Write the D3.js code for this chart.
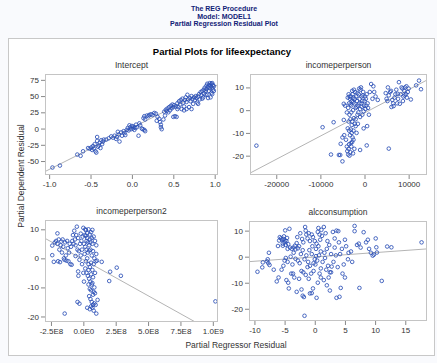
<!DOCTYPE html>
<html>
<head>
<meta charset="utf-8">
<script src="https://cdn.jsdelivr.net/npm/d3@7"></script>
<style>
  body { margin: 0; background: #f9fafd; }
  svg { display: block; font-family: "Liberation Sans", Arial, sans-serif; }
</style>
</head>
<body>
<div id="my_dataviz"></div>
<script>
// header and titles
var headerLines = ["The REG Procedure", "Model: MODEL1", "Partial Regression Residual Plot"];
var mainTitle = "Partial Plots for lifeexpectancy";
var panelTitles = ["Intercept", "incomeperperson", "incomeperperson2", "alcconsumption"];

// tick values per panel
var interceptXTicks = [-1, -0.5, 0, 0.5, 1];
var interceptYTicks = [-50, -25, 0, 25, 50, 75];
var incomeXTicks = [-20000, -10000, 0, 10000];
var incomeYTicks = [-20, -10, 0, 10];
var income2XTicks = [-2.5e8, 0, 2.5e8, 5e8, 7.5e8, 1e9];
var income2YTicks = [-20, -10, 0, 10];
var alcXTicks = [-10, -5, 0, 5, 10, 15];
var alcYTicks = [-20, -10, 0, 10];

// fitted lines: [intercept, slope]
var fitLines = [[1, 64], [-1.2, 0.00102], [-0.45, -2.48e-8], [-0.1, 0.166]];

// partial residuals [x, y]
var interceptPts = [[-0.96,-60],[-0.87,-57],[-0.66,-40],[-0.62,-42],[-0.59,-35],[-0.53,-30],[-0.51,-31],[-0.49,-29],[-0.48,-33],
  [-0.47,-27],[-0.46,-31],[-0.45,-24],[-0.44,-35],[-0.43,-37],[-0.42,-13],[-0.42,-19],[-0.41,-28],[-0.40,-26],[-0.39,-22],
  [-0.38,-30],[-0.37,-18],[-0.36,-24],[-0.35,-20],[-0.34,-17],[-0.31,-17],[-0.28,-15],[-0.25,-12],[-0.23,-14],[-0.21,-11],
  [-0.19,-16],[-0.18,-13],[-0.17,-5],[-0.16,-9],[-0.15,-20],[-0.13,-6],[-0.12,-11],[-0.10,-4],[-0.09,-7],[-0.08,-10],
  [-0.06,-2],[-0.05,1],[-0.04,-3],[-0.03,5],[-0.02,2],[-0.01,-1],[0.0,4],[0.01,0],[0.02,3],[0.03,-2],[0.04,1],[0.05,6],
  [0.06,2],[0.08,-11],[0.09,8],[0.10,5],[0.12,0],[0.13,-1],[0.15,-2],[0.16,-4],[0.14,16],[0.15,19],[0.16,14],[0.18,20],
  [0.20,19],[0.21,21],[0.23,22],[0.25,21],[0.27,24],[0.29,23],[0.30,12],[0.31,18],[0.33,15],[0.34,10],[0.35,6],[0.35,2],
  [0.36,-1],[0.38,14],[0.39,26],[0.40,20],[0.41,29],[0.42,27],[0.43,31],[0.44,25],[0.45,33],[0.46,28],[0.47,35],[0.48,31],
  [0.49,37],[0.50,33],[0.50,18],[0.51,36],[0.52,19],[0.53,34],[0.54,18],[0.55,30],[0.55,39],[0.56,33],[0.57,42],[0.58,37],
  [0.59,44],[0.60,30],[0.61,46],[0.62,40],[0.63,34],[0.63,28],[0.64,44],[0.65,48],[0.66,30],[0.66,41],[0.67,52],[0.68,45],
  [0.69,33],[0.70,47],[0.71,42],[0.72,50],[0.72,30],[0.73,45],[0.74,38],[0.75,48],[0.76,44],[0.77,50],[0.78,47],[0.79,40],
  [0.80,49],[0.80,38],[0.81,53],[0.82,45],[0.83,56],[0.84,51],[0.85,58],[0.86,48],[0.87,60],[0.87,54],[0.88,63],[0.89,58],
  [0.90,66],[0.90,61],[0.91,52],[0.91,69],[0.92,64],[0.93,67],[0.93,58],[0.94,70],[0.94,62],[0.95,66],[0.96,55],[0.96,69],
  [0.97,63],[0.97,70],[0.98,60],[0.98,67],[0.99,65],[0.99,58],[0.95,48],[0.92,47],[0.85,46],[0.89,52],[0.97,53]];

var incomePts = [[-24500,-15.6],[-9500,-7.5],[-7000,-5.3],[-7600,-19.5],[-5800,-19.7],[-5500,-19.7],[-5000,-22.5],
  [-5400,-14.8],[-4700,-4.3],[-4700,2.8],[-4400,2.0],[-5000,-12],[-4600,-11],[-4200,-13],[-4000,-16],[-3900,-18],
  [-3700,-19.5],[-3600,-17],[-3400,-20],[-3200,-18.5],[-3000,-16],[-2800,-14],[-2600,-19],[-2300,-17],[-1000,-17.5],
  [500,-15.5],[5500,-16.9],[-3800,-8],[-3500,-9],[-3300,-11],[-3100,-8.5],[-2900,-10],[-2700,-12],[-2500,-9],[-3600,-5],
  [-3200,-4],[-2800,-5],[-2400,-3.5],[-2200,-6],[-2000,-7],[-1800,-10],[-3400,-2],[-3000,-1],[-2600,0],[-4000,-1],
  [-3700,1],[-3500,3],[-3300,5],[-3100,6],[-2900,4],[-2700,7],[-2500,5.5],[-2300,3],[-2100,8],[-1900,6],[-1700,4],
  [-1500,2],[-1300,7],[-1100,5],[-900,9],[-700,6],[-500,4],[-300,8],[-100,2],[100,6],[300,5],[500,7],[700,3],[-1400,-1],
  [-1000,0.5],[-600,1.5],[-200,-0.5],[200,0.5],[-800,10],[-1200,9.5],[-2000,1],[-1600,-2],[-3800,5.5],[-3600,7],
  [-3000,2],[-2800,8.5],[-2400,9],[-1800,1.5],[-1000,-3],[-500,-2],[0,4],[400,2],[800,1],[1000,-2],[1200,8],[1500,11.5],
  [2000,10.5],[2200,8],[2500,6],[3000,4.5],[1800,5],[600,-7],[-1500,-6],[-2000,-4],[-200,-8],[-3400,6],[-3200,2.5],
  [-2600,3.5],[-2200,5],[-1600,7.5],[-700,3],[-400,6.5],[-1200,3],[-2900,-6.5],[-2500,-13],[-3100,-14.5],[-3500,-15],
  [4800,7.5],[5000,5],[5200,4],[5500,6.5],[5800,8],[6100,1.4],[6300,4.5],[6600,1.8],[6800,5.5],[7000,7],[7200,9],
  [7400,3],[7600,5],[7800,12.3],[8000,2.8],[8200,7],[8400,10],[8600,9.5],[8800,6],[9000,8.5],[9200,10],[9400,7],
  [9600,5.5],[9800,8],[10000,9.5],[10500,4.7],[11700,10.9],[12350,13],[12800,9.2],[6000,8.5],[5300,10],[7500,7.2],
  [8700,4],[9500,10.5],[9100,6.5],[6500,3]];

var income2Pts = [[-2.4e8,4.4],[-2.4e8,1.1],[-2.28e8,-1.2],[-2.0e8,8.6],[-2.2e8,5.5],[-2.1e8,6],[-2.0e8,5],[-1.9e8,6.5],
  [-1.85e8,3],[-1.8e8,-1.3],[-1.7e8,5.8],[-1.65e8,2],[-1.6e8,6.5],[-1.55e8,4],[-1.5e8,0],[-1.45e8,-0.5],[-1.4e8,5.5],
  [-1.35e8,1],[-1.3e8,-0.8],[-1.25e8,6],[-1.2e8,3.5],[-1.15e8,-1],[-1.1e8,2],[-1.0e8,-2],[-0.95e8,4],[-0.9e8,-2.2],
  [-0.85e8,6],[-0.8e8,8],[-0.75e8,5],[-0.7e8,9.5],[-0.65e8,6.5],[-0.6e8,4.5],[-0.55e8,8],[-0.5e8,10.9],[-0.45e8,3],
  [-0.4e8,7],[-0.35e8,2.5],[-0.3e8,-0.5],[-1.44e8,-19],[-0.45e8,-15],[-0.3e8,-15.6],[-0.4e8,-4.5],[-0.38e8,-6],
  [0.0,10.5],[0.1e8,8],[0.2e8,9.7],[0.3e8,7],[0.4e8,10],[0.5e8,6.5],[0.6e8,9],[0.7e8,5],[0.8e8,7.5],[0.9e8,6],[1.0e8,4.5],
  [0.05e8,5],[0.15e8,4],[0.25e8,3],[0.35e8,2],[0.45e8,4.5],[0.55e8,3],[0.65e8,1],[0.75e8,2.5],[0.85e8,0],[0.95e8,-1],
  [0.1e8,1.5],[0.2e8,-1],[0.3e8,0],[0.4e8,-2],[0.5e8,-3],[0.6e8,-1.5],[0.7e8,-4],[0.8e8,-2],[0.9e8,-5],[0.15e8,-3.5],
  [0.25e8,-5],[0.35e8,-6],[0.45e8,-7],[0.55e8,-8],[0.65e8,-9],[0.75e8,-6.5],[0.85e8,-10],[0.5e8,-10.5],[0.6e8,-11],
  [0.7e8,-8.5],[0.8e8,-11.5],[0.9e8,-12],[0.45e8,-13],[0.55e8,-14],[0.65e8,-15],[0.75e8,-16],[0.85e8,-15.5],[0.6e8,-16.5],
  [0.7e8,-17],[0.5e8,-17.5],[0.3e8,-17],[0.8e8,-18],[1.0e8,-19],[1.1e8,-14.3],[0.95e8,-16],[0.4e8,-4],[0.35e8,5.5],
  [-0.1e8,3],[-0.15e8,6],[-0.2e8,8.5],[-0.05e8,7.5],[-0.1e8,-2],[-0.2e8,1],[0.0,-5],[0.05e8,-8],[1.05e8,-0.8],[1.42e8,-1.2],
  [1.0e8,1.5],[0.2e8,7.8],[0.3e8,8.7],[0.5e8,8.2],[0.65e8,7],[0.7e8,9.8],[0.15e8,10],[0.25e8,6],[0.55e8,5.5],[0.45e8,2.7],
  [0.6e8,-5.5],[0.75e8,-12.5],[0.4e8,-9],[-1.75e8,4.5],[-1.95e8,-1],[-1.05e8,5],[-0.6e8,0.8],[-0.25e8,5],
  [2.07e8,-4.6],[2.0e8,-7.8],[2.58e8,-3.2],[2.9e8,-6],[1.02e9,-14.8]];

var alcPts = [[-9.5,-5.8],[-8.7,-4.1],[-8.6,-2.2],[-7.8,-1],[-7.7,-2.5],[-7.6,1.5],[-7.5,-3.2],[-7.9,-1.8],[-6.1,4.1],
  [-5.6,7],[-5.4,6.5],[-5.3,5],[-5.2,6.8],[-5.0,5.5],[-4.9,10.1],[-4.8,4.5],[-4.7,6],[-4.5,3],[-4.2,10.7],[-4.1,3.5],
  [-3.8,3],[-3.5,3.5],[-3.2,2.8],[-3.0,5.2],[-2.8,3.2],[-5.5,-5],[-5.2,-3.5],[-5.0,-1.5],[-4.8,-0.5],[-4.5,-2],
  [-4.3,-12.2],[-4.7,-9],[-4.4,-10],[-3.9,-6.5],[-3.6,-6.5],[-3.4,-8],[-3.0,-13.5],[-2.8,-1.5],[-2.5,-2.5],[-2.2,-5.5],
  [-2.0,-15],[-1.8,-15.5],[-1.7,-22.7],[-1.6,11.4],[-1.5,10],[-1.4,8.5],[-1.2,7],[-1.0,9],[-0.8,6],[-0.5,8.5],[-0.3,7.5],
  [0.0,6],[0.3,5],[0.6,4],[0.9,6.5],[1.2,8],[1.5,11.4],[1.8,9],[2.1,6],[2.4,4.5],[-2.6,4],[-2.3,1],[-2.0,2.5],[-1.7,-1],
  [-1.4,0.5],[-1.1,-2],[-0.8,-3.5],[-0.5,1],[-0.2,-2.5],[0.1,-3],[0.4,-1.5],[0.7,0.5],[1.0,-4.5],[1.3,-2],[1.6,1.5],
  [1.9,-5],[2.2,-3.5],[2.5,-6],[2.8,-3.8],[3.1,-2],[-1.9,-6],[-1.5,-7],[-1.0,-8.5],[-0.6,-6.5],[-0.3,-12.2],[-0.8,-14.1],
  [0.3,-15.8],[-0.5,-14],[1.0,-8],[1.5,-9],[2.0,-11],[2.5,-13],[2.7,-6],[3.6,-15.8],[4.1,-15.4],[4.3,-12],[4.6,-6.5],
  [4.8,-3],[5.5,-1],[3.0,9.5],[3.3,7],[3.6,10],[4.0,5.5],[4.5,3],[5.0,6.5],[5.2,4],[5.6,1.5],[6.0,2],[6.6,11.8],[6.6,9.8],
  [7.3,5],[7.4,-12],[8.1,9.4],[7.0,4.5],[7.6,3.5],[8.5,5.5],[9.0,3],[9.3,1.5],[9.6,0.4],[10.1,7],[10.2,3.6],[11.1,-9.3],
  [12.0,3.9],[12.7,3.6],[17.7,5.5],[5.0,-8],[3.5,0.5],[0.5,-10],[-3.2,-0.8],[-6.0,-8],[-6.8,-5],[-4.0,0],[-3.5,1.5],
  [2.0,3],[1.0,2],[0.2,3],[-0.2,-5.5],[0.8,-6.5],[3.8,-4],[4.2,1],[-5.8,7.5],[-5.3,4.2],[-4.9,6.2],[-0.4,4],[0.5,9.5],
  [2.7,1],[6.2,-2],[8.8,6.5],[9.8,0.8],[10.3,1.6],[-2.6,-8.5],[-2.2,-12.6],[-1.2,-4],[0.0,-1],[1.7,-0.5],[3.3,3.5],
  [-3.7,-3],[-1.9,5.5],[0.8,8.5],[2.3,-8],[-2.4,9],[-0.9,2.5],[0.2,0.2],[3.9,9.8],[-6.3,-9.5],
  [-5.9,6.2],[-5.1,7.8],[-4.6,7.2],[-4.4,4.8],[-3.3,4.2],[-2.9,7.5],[-2.1,6.8],[0.6,11],[1.1,10.3]];

// layout of the figure
var W = 437, H = 363;
var layout = [
  {x0: 45, x1: 218, y0: 74, y1: 175, xd: [-1.05, 1.04], yd: [-71.5, 84]},
  {x0: 250, x1: 427, y0: 74, y1: 175, xd: [-25950, 14160], yd: [-28.5, 15.9]},
  {x0: 45, x1: 218, y0: 220, y1: 322, xd: [-2.96e8, 1.04e9], yd: [-21.9, 13.2]},
  {x0: 249, x1: 427, y0: 221, y1: 321, xd: [-10.9, 18.6], yd: [-24.7, 13.7]}
];

var plain = function(d) { return String(d); };
var oneDec = function(d) { return d3.format(".1f")(d).replace("−", "-"); };
var sci = function(d) { return d.toExponential(1).replace("e+", "E").replace("e-", "E-"); };

var panels = [
  {pts: interceptPts, xt: interceptXTicks, yt: interceptYTicks, fx: oneDec, fy: plain},
  {pts: incomePts, xt: incomeXTicks, yt: incomeYTicks, fx: plain, fy: plain},
  {pts: income2Pts, xt: income2XTicks, yt: income2YTicks, fx: sci, fy: plain},
  {pts: alcPts, xt: alcXTicks, yt: alcYTicks, fx: plain, fy: plain}
];

var svg = d3.select("#my_dataviz")
  .append("svg")
    .attr("width", W)
    .attr("height", H);

// header
svg.selectAll("text.header")
  .data(headerLines)
  .enter()
  .append("text")
    .attr("class", "header")
    .attr("x", 224)
    .attr("y", function(d, i) { return 11 + i * 7.6; })
    .attr("text-anchor", "middle")
    .attr("font-size", "7px")
    .attr("font-weight", "bold")
    .attr("fill", "#112277")
    .text(function(d) { return d; });

// graph frame
svg.append("rect")
  .attr("x", 8.5).attr("y", 38.5)
  .attr("width", 426).attr("height", 317)
  .attr("fill", "white")
  .attr("stroke", "#c8c8c8");

svg.append("text")
  .attr("x", 222).attr("y", 54.5)
  .attr("text-anchor", "middle")
  .attr("font-size", "9.5px")
  .attr("font-weight", "bold")
  .attr("fill", "#000")
  .text(mainTitle);

svg.append("text")
  .attr("transform", "translate(24,176)rotate(-90)")
  .attr("text-anchor", "middle")
  .attr("font-size", "8.5px")
  .attr("fill", "#333")
  .text("Partial Dependent Residual");

svg.append("text")
  .attr("x", 236).attr("y", 348)
  .attr("text-anchor", "middle")
  .attr("font-size", "8.5px")
  .attr("fill", "#333")
  .text("Partial Regressor Residual");

panels.forEach(function(p, i) {
  var L = layout[i];
  var x = d3.scaleLinear().domain(L.xd).range([L.x0, L.x1]);
  var y = d3.scaleLinear().domain(L.yd).range([L.y1, L.y0]);

  svg.append("text")
    .attr("x", (L.x0 + L.x1) / 2)
    .attr("y", L.y0 - 6)
    .attr("text-anchor", "middle")
    .attr("font-size", "8.5px")
    .attr("fill", "#333")
    .text(panelTitles[i]);

  svg.append("clipPath").attr("id", "clip" + i)
    .append("rect")
      .attr("x", L.x0).attr("y", L.y0)
      .attr("width", L.x1 - L.x0).attr("height", L.y1 - L.y0);

  // axes
  var gx = svg.append("g")
    .attr("transform", "translate(0," + L.y1 + ")")
    .call(d3.axisBottom(x).tickValues(p.xt).tickSize(4).tickPadding(2).tickFormat(p.fx));
  var gy = svg.append("g")
    .attr("transform", "translate(" + L.x0 + ",0)")
    .call(d3.axisLeft(y).tickValues(p.yt).tickSize(4).tickPadding(2).tickFormat(p.fy));
  [gx, gy].forEach(function(g) {
    g.select(".domain").remove();
    g.selectAll("line").attr("stroke", "#888");
    g.selectAll("text")
      .attr("fill", "#333")
      .attr("font-size", "8px")
      .attr("font-family", "'Liberation Sans', Arial, sans-serif");
  });

  var plot = svg.append("g").attr("clip-path", "url(#clip" + i + ")");

  // fit line
  var f = fitLines[i];
  plot.append("line")
    .attr("x1", x(L.xd[0])).attr("y1", y(f[0] + f[1] * L.xd[0]))
    .attr("x2", x(L.xd[1])).attr("y2", y(f[0] + f[1] * L.xd[1]))
    .attr("stroke", "#b4b4b4")
    .attr("stroke-width", 1);

  plot.selectAll("circle")
    .data(p.pts)
    .enter()
    .append("circle")
      .attr("cx", function(d) { return x(d[0]); })
      .attr("cy", function(d) { return y(d[1]); })
      .attr("r", 1.8)
      .attr("fill", "none")
      .attr("stroke", "#2a4fb6")
      .attr("stroke-width", 0.85);

  svg.append("rect")
    .attr("x", L.x0 + 0.5).attr("y", L.y0 + 0.5)
    .attr("width", L.x1 - L.x0 - 1).attr("height", L.y1 - L.y0 - 1)
    .attr("fill", "none")
    .attr("stroke", "#c4c4c4");
});
</script>
</body>
</html>
